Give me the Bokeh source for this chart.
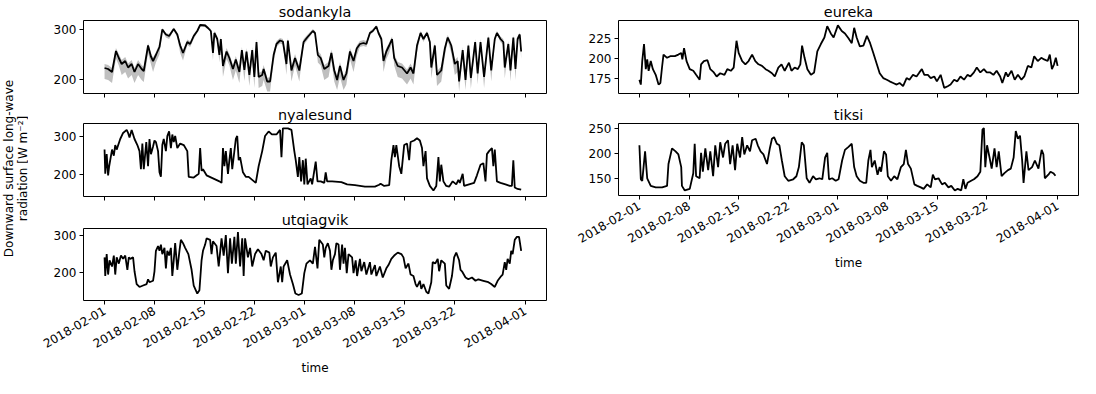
import math
import numpy as np
from bokeh.plotting import figure
from bokeh.layouts import row, column
from bokeh.models import Range1d, FixedTicker, DatetimeTickFormatter
from bokeh.embed import file_html
from bokeh.resources import INLINE
from bokeh.core.properties import value

# ---------------- data (days after 2018-02-01, W m-2) ----------------
sod_days = [0.0, 0.5, 1.05, 1.6, 2.0, 2.4, 2.9, 3.3, 3.8, 4.2, 4.7, 5.2, 5.5, 6.1, 6.5, 6.8, 7.2, 7.7, 8.1, 8.6,
            9.05, 9.7, 10.2, 10.6, 11.0, 11.6, 12.0, 12.5, 13.0, 13.4, 14.1, 14.5, 14.9, 15.2, 15.4, 15.8, 16.1, 16.3, 16.6, 17.1,
            17.5, 18.0, 18.4, 18.9, 19.25, 19.6, 19.9, 20.3, 20.7, 21.0, 21.3, 21.6, 22.1, 22.3, 22.8, 23.2, 23.7, 24.1, 24.6, 25.0,
            25.5, 25.7, 26.2, 26.7, 27.3, 27.9, 28.4, 29.2, 29.5, 29.9, 30.3, 30.8, 31.4, 31.8, 32.2, 32.6, 33.0, 33.5, 33.9, 34.4,
            34.9, 35.35, 35.8, 36.3, 36.7, 37.2, 37.6, 38.1, 38.4, 38.8, 39.1, 39.5, 39.9, 40.3, 40.6, 41.1, 41.7, 42.4, 42.9, 43.3,
            43.8, 44.3, 44.7, 45.2, 45.6, 45.8, 46.3, 46.6, 47.2, 47.7, 48.1, 48.6, 49.1, 49.5, 49.7, 50.2, 50.6, 51.0, 51.35, 51.95,
            52.3, 52.7, 53.2, 53.8, 54.2, 54.7, 55.0, 55.5, 55.9, 56.1, 56.6, 56.9, 57.3, 57.6, 57.9, 58.2, 58.4]
sod_vals = [222, 220, 214, 256, 242, 230, 236, 223, 230, 214, 230, 220, 216, 267, 245, 236, 248, 264, 299, 289,
            286, 300, 289, 267, 252, 274, 270, 286, 296, 308, 307, 302, 296, 252, 292, 280, 248, 280, 226, 255,
            242, 220, 239, 214, 258, 218, 255, 208, 258, 204, 274, 204, 208, 220, 195, 195, 248, 270, 277, 275,
            230, 277, 217, 242, 217, 274, 283, 296, 292, 248, 242, 220, 226, 252, 217, 198, 226, 198, 211, 255,
            236, 261, 270, 272, 270, 292, 296, 305, 292, 280, 236, 255, 267, 280, 242, 226, 223, 211, 223, 211,
            267, 292, 280, 292, 274, 223, 267, 208, 217, 261, 283, 267, 230, 236, 195, 258, 198, 267, 202, 274,
            211, 274, 204, 283, 217, 280, 292, 280, 274, 223, 270, 217, 283, 220, 280, 289, 255]
sod_lo = [200, 198, 192, 241, 227, 208, 214, 201, 208, 192, 208, 198, 194, 252, 230, 214, 233, 249, 296, 283,
          280, 297, 283, 252, 237, 268, 264, 280, 293, 305, 304, 299, 293, 237, 289, 274, 233, 274, 204, 240,
          227, 198, 217, 192, 243, 196, 240, 186, 243, 182, 268, 182, 186, 198, 175, 175, 233, 264, 271, 269,
          208, 271, 195, 227, 195, 268, 277, 293, 289, 233, 227, 198, 204, 237, 195, 178, 204, 178, 189, 240,
          214, 246, 264, 266, 264, 289, 293, 302, 289, 274, 214, 240, 252, 274, 227, 204, 201, 189, 201, 189,
          252, 289, 274, 289, 268, 201, 252, 186, 195, 246, 277, 252, 208, 214, 175, 243, 178, 252, 180, 268,
          189, 268, 182, 277, 195, 274, 289, 274, 268, 201, 264, 195, 277, 198, 274, 283, 240]
sod_hi = [230, 228, 222, 262, 250, 238, 244, 231, 238, 222, 238, 228, 224, 272, 252, 243, 254, 270, 302, 292,
          290, 303, 292, 272, 258, 279, 275, 290, 299, 310, 310, 305, 300, 258, 296, 285, 255, 285, 234, 262,
          250, 228, 246, 222, 264, 226, 262, 216, 264, 212, 280, 212, 216, 228, 203, 203, 255, 276, 282, 280,
          238, 282, 225, 250, 225, 280, 288, 300, 296, 255, 250, 228, 234, 259, 225, 206, 234, 206, 219, 262,
          244, 267, 276, 278, 276, 296, 300, 308, 296, 285, 244, 262, 273, 285, 250, 234, 231, 219, 231, 219,
          273, 296, 285, 296, 280, 231, 273, 216, 225, 267, 288, 273, 238, 244, 203, 264, 206, 273, 210, 280,
          219, 280, 212, 288, 225, 285, 296, 285, 280, 231, 276, 225, 288, 228, 285, 293, 262]

nya_days = [0.0, 0.1, 0.3, 0.5, 0.65, 1.05, 1.3, 1.5, 1.7, 2.2, 2.6, 3.1, 3.3, 3.5, 3.8, 4.2, 4.6, 4.9, 5.1, 5.3,
            5.5, 5.85, 6.1, 6.3, 6.5, 6.8, 7.0, 7.2, 7.5, 7.7, 7.9, 8.1, 8.3, 8.6, 8.8, 9.05, 9.3, 9.5, 9.7, 9.9,
            10.2, 10.6, 11.1, 11.6, 11.8, 12.5, 13.2, 13.4, 13.6, 13.8, 14.3, 15.2, 16.1, 16.4, 16.6, 16.8, 17.0, 17.3, 17.5, 17.7,
            17.9, 18.4, 18.6, 18.8, 19.0, 19.4, 19.8, 20.2, 20.7, 21.2, 21.6, 22.1, 22.5, 23.0, 23.45, 24.1, 24.6, 24.8, 25.0, 25.7,
            26.2, 26.6, 26.8, 27.1, 27.3, 27.55, 27.8, 28.0, 28.2, 28.45, 28.9, 29.1, 29.6, 29.85, 30.3, 30.8, 31.0, 31.2, 31.9, 33.2,
            34.0, 35.1, 36.5, 37.9, 38.5, 38.7, 39.2, 39.9, 40.2, 40.5, 40.7, 40.9, 41.3, 41.6, 42.0, 42.4, 42.7, 42.9, 43.4, 43.8,
            44.2, 44.5, 44.7, 45.0, 45.2, 45.6, 46.1, 46.5, 46.8, 47.0, 47.2, 47.5, 47.9, 48.3, 48.8, 49.3, 49.6, 49.8, 50.2, 50.4,
            51.1, 51.8, 52.2, 52.7, 53.1, 53.4, 53.6, 53.9, 54.3, 54.5, 54.7, 55.0, 55.5, 56.2, 56.8, 57.1, 57.3, 57.5, 57.9, 58.4]
nya_vals = [266, 202, 254, 198, 222, 266, 250, 278, 266, 294, 310, 318, 310, 298, 318, 294, 278, 262, 214, 282,
            214, 286, 222, 294, 254, 274, 290, 286, 262, 206, 194, 278, 294, 262, 302, 314, 270, 306, 286, 302,
            270, 282, 278, 262, 194, 192, 202, 270, 210, 214, 198, 190, 182, 178, 270, 222, 262, 202, 238, 270,
            214, 294, 302, 238, 246, 206, 194, 194, 186, 178, 222, 262, 302, 314, 306, 306, 318, 246, 322, 322,
            318, 262, 238, 194, 246, 182, 238, 174, 242, 174, 190, 174, 234, 182, 182, 178, 206, 182, 182, 180,
            174, 172, 168, 168, 173, 176, 170, 172, 238, 278, 246, 278, 222, 202, 278, 282, 238, 286, 290, 296,
            290, 270, 222, 262, 190, 170, 158, 170, 246, 182, 226, 182, 170, 168, 182, 174, 186, 178, 202, 170,
            174, 178, 198, 226, 230, 182, 254, 262, 270, 222, 266, 182, 178, 174, 170, 170, 238, 166, 162, 160]

utq_days = [0.0, 0.1, 0.3, 0.5, 0.7, 1.05, 1.3, 1.5, 1.7, 2.0, 2.3, 2.6, 2.9, 3.2, 3.4, 3.6, 4.0, 4.2, 4.5, 4.9,
            5.4, 5.9, 6.1, 6.3, 6.8, 7.0, 7.2, 7.5, 7.7, 7.9, 8.1, 8.4, 8.6, 8.8, 9.05, 9.3, 9.5, 9.7, 9.9, 10.2,
            10.5, 10.7, 11.0, 11.3, 11.75, 12.2, 12.5, 13.0, 13.3, 13.6, 13.8, 14.1, 14.3, 14.8, 15.0, 15.2, 15.7, 16.0, 16.4, 16.7,
            17.0, 17.3, 17.6, 17.85, 18.2, 18.4, 18.7, 19.0, 19.3, 19.5, 19.7, 20.1, 20.4, 20.7, 21.1, 21.5, 22.0, 22.3, 22.6, 23.1,
            23.3, 23.6, 24.0, 24.3, 24.7, 24.9, 25.1, 25.6, 26.0, 26.4, 26.75, 27.2, 27.65, 28.0, 28.3, 28.8, 29.2, 29.5, 29.85, 30.1,
            30.6, 30.8, 31.0, 31.3, 31.6, 31.8, 32.0, 32.3, 32.5, 32.8, 33.0, 33.3, 33.5, 33.7, 33.95, 34.2, 34.7, 34.9, 35.2, 35.4,
            35.8, 36.0, 36.4, 36.7, 37.2, 37.4, 37.9, 38.1, 38.6, 39.0, 39.5, 39.8, 40.2, 40.6, 41.1, 41.6, 41.9, 42.2, 42.6, 42.9,
            43.3, 43.6, 43.8, 44.2, 44.4, 44.7, 45.1, 45.4, 45.8, 46.0, 46.35, 46.7, 46.9, 47.2, 47.7, 47.9, 48.3, 48.7, 49.0, 49.3,
            49.7, 49.9, 50.1, 50.6, 51.0, 51.5, 52.0, 52.4, 53.1, 53.8, 54.2, 54.7, 55.1, 55.6, 55.8, 56.1, 56.3, 56.5, 56.8, 57.0,
            57.2, 57.5, 57.8, 58.1, 58.4]
utq_vals = [241, 190, 250, 194, 233, 216, 246, 194, 241, 224, 246, 237, 246, 207, 241, 237, 241, 203, 168, 160,
            164, 168, 181, 173, 177, 203, 259, 272, 259, 276, 250, 267, 211, 259, 246, 267, 190, 233, 280, 207,
            259, 289, 280, 267, 250, 207, 164, 142, 151, 233, 259, 276, 293, 289, 250, 285, 272, 216, 293, 246,
            302, 198, 293, 224, 297, 224, 310, 216, 293, 190, 293, 241, 267, 216, 250, 263, 250, 233, 259, 254,
            216, 241, 254, 173, 216, 173, 216, 233, 194, 168, 142, 138, 142, 198, 224, 233, 224, 270, 211, 289,
            276, 241, 267, 280, 259, 207, 233, 250, 280, 276, 207, 276, 224, 267, 198, 250, 241, 198, 233, 190,
            237, 203, 228, 194, 228, 194, 220, 190, 216, 186, 211, 220, 237, 246, 254, 250, 241, 211, 224, 194,
            190, 168, 160, 177, 155, 168, 147, 142, 173, 228, 224, 237, 203, 233, 224, 164, 155, 190, 241, 254,
            233, 207, 203, 186, 181, 186, 177, 181, 177, 173, 168, 160, 177, 190, 194, 228, 207, 237, 224, 259,
            250, 289, 297, 297, 259]

eur_days = [0.0, 0.2, 0.4, 0.65, 0.9, 1.1, 1.3, 1.6, 1.9, 2.3, 2.7, 2.96, 3.2, 3.4, 3.9, 4.35, 5.0, 5.5, 5.9, 6.06,
            6.3, 6.65, 7.1, 7.6, 8.0, 8.5, 8.7, 9.1, 9.6, 10.0, 10.5, 10.9, 11.4, 12.0, 12.4, 12.9, 13.3, 13.7, 14.0, 14.5,
            14.95, 15.4, 15.9, 16.35, 16.8, 17.3, 17.8, 18.2, 18.7, 19.1, 19.6, 20.05, 20.5, 21.1, 21.45, 21.9, 22.35, 22.7, 22.95, 23.3,
            23.7, 24.2, 24.65, 25.1, 25.6, 26.1, 26.5, 27.0, 27.4, 28.0, 28.55, 29.0, 29.5, 29.96, 30.3, 30.65, 31.1, 31.6, 32.1, 32.55,
            33.0, 33.5, 33.9, 34.4, 34.9, 35.3, 35.8, 36.3, 36.7, 37.2, 37.7, 38.1, 38.6, 39.1, 39.5, 39.85, 40.2, 40.7, 41.1, 41.6,
            41.97, 42.5, 43.0, 43.5, 43.9, 44.4, 44.85, 45.3, 45.8, 46.3, 46.7, 47.2, 47.6, 48.1, 48.6, 49.0, 49.5, 49.95, 50.4, 50.9,
            51.2, 51.7, 52.0, 52.5, 52.95, 53.4, 53.9, 54.3, 54.8, 55.3, 55.7, 56.2, 56.7, 57.1, 57.6, 57.9, 58.2, 58.5, 58.75, 59.0]
eur_vals = [174, 168, 197, 218, 187, 199, 185, 197, 187, 180, 168, 170, 190, 205, 201, 203, 203, 205, 207, 199,
            213, 197, 187, 185, 180, 174, 193, 197, 198, 187, 183, 178, 182, 180, 187, 185, 189, 222, 207, 197,
            193, 197, 205, 197, 193, 191, 187, 185, 182, 178, 189, 193, 185, 195, 185, 189, 187, 193, 216, 201,
            187, 180, 183, 209, 218, 226, 240, 231, 226, 241, 234, 231, 225, 219, 238, 226, 215, 216, 228, 219,
            207, 193, 182, 176, 174, 172, 170, 168, 170, 166, 176, 174, 180, 178, 183, 187, 180, 180, 176, 178,
            172, 180, 164, 166, 168, 174, 172, 178, 174, 180, 178, 183, 189, 183, 187, 183, 183, 180, 185, 178,
            170, 183, 178, 185, 174, 180, 174, 178, 191, 189, 203, 197, 201, 199, 197, 205, 187, 193, 201, 191]

tik_days = [0.0, 0.2, 0.4, 0.8, 1.1, 1.6, 2.3, 3.2, 3.9, 4.1, 4.6, 5.1, 5.5, 5.9, 6.0, 6.4, 7.1, 7.6, 7.8, 8.0,
            8.5, 8.7, 8.95, 9.3, 9.7, 10.0, 10.4, 10.7, 11.1, 11.4, 11.8, 12.1, 12.5, 12.8, 13.15, 13.5, 13.8, 14.2, 14.5, 14.8,
            15.2, 15.6, 15.9, 16.4, 16.7, 17.1, 17.5, 18.0, 18.4, 18.7, 19.0, 19.4, 19.75, 20.1, 20.5, 21.0, 21.7, 22.15, 22.5, 22.9,
            23.2, 23.6, 24.0, 24.5, 24.9, 25.4, 25.8, 26.2, 26.5, 26.75, 27.2, 27.7, 28.1, 28.6, 29.0, 29.5, 29.96, 30.3, 30.65, 31.1,
            31.6, 32.0, 32.3, 32.6, 32.8, 33.2, 33.6, 33.9, 34.1, 34.5, 34.8, 35.05, 35.5, 35.95, 36.4, 36.9, 37.3, 37.6, 37.9, 38.3,
            38.8, 39.2, 39.7, 40.1, 40.6, 41.1, 41.4, 41.7, 42.2, 42.7, 43.1, 43.6, 44.0, 44.5, 44.9, 45.4, 45.7, 46.0, 46.3, 46.8,
            47.2, 47.7, 48.1, 48.4, 48.6, 48.8, 49.05, 49.4, 49.7, 50.1, 50.4, 50.7, 51.1, 51.5, 52.0, 52.4, 52.8, 53.1, 53.4, 53.7,
            54.0, 54.2, 54.6, 54.9, 55.4, 55.8, 56.3, 56.75, 57.0, 57.2, 57.7, 58.0, 58.4, 58.7]
tik_vals = [216, 149, 146, 204, 151, 136, 133, 133, 136, 179, 210, 204, 198, 173, 136, 127, 130, 161, 219, 155,
            151, 201, 164, 210, 167, 204, 155, 216, 173, 222, 192, 219, 226, 179, 216, 167, 219, 192, 232, 198,
            216, 204, 226, 229, 216, 204, 198, 179, 210, 229, 232, 219, 216, 186, 155, 146, 149, 155, 173, 222,
            216, 151, 142, 155, 149, 151, 149, 192, 201, 149, 151, 146, 149, 186, 207, 213, 219, 173, 155, 146,
            142, 142, 186, 207, 173, 186, 158, 173, 164, 204, 198, 155, 146, 155, 149, 173, 179, 207, 179, 170,
            139, 136, 133, 130, 139, 133, 158, 149, 151, 139, 142, 133, 136, 127, 130, 127, 149, 130, 142, 146,
            149, 155, 164, 247, 250, 173, 216, 192, 170, 210, 173, 204, 155, 161, 167, 170, 192, 244, 229, 235,
            186, 142, 204, 167, 173, 186, 170, 207, 198, 151, 158, 164, 161, 156]

tick_days = [0, 7, 14, 21, 28, 35, 42, 49, 59]

# ---------------- helpers ----------------
T0 = 1517443200000.0  # 2018-02-01 00:00 UTC in ms
DAY = 86400000.0


def ms(d):
    return T0 + d * DAY


def to_dt(days):
    return np.array([ms(d) for d in days])


FONT = "DejaVu Sans"
FMT = "%Y-%m-%d"
X0, X1 = ms(-2.95), ms(61.95)
FRAME_H = 73


def panel(title, yr, yticks, frame_w, left, right, top, bottom, labels, xlabel=None):
    p = figure(width=left + frame_w + right, height=top + FRAME_H + bottom,
               x_axis_type="datetime", output_backend="svg", toolbar_location=None,
               x_range=Range1d(X0, X1), y_range=Range1d(yr[0], yr[1]),
               min_border_left=left, min_border_right=right,
               min_border_top=top, min_border_bottom=bottom,
               background_fill_color="white", border_fill_color="white")
    p.title.text = title
    p.title.align = "center"
    p.title.text_font = FONT
    p.title.text_font_size = "14.4px"
    p.title.text_font_style = "normal"
    p.title.text_color = "black"
    p.title.standoff = 1
    p.title.offset = 0
    p.grid.visible = False
    p.outline_line_color = "black"
    p.outline_line_width = 1
    p.outline_line_alpha = 1
    for ax in p.axis:
        ax.axis_line_color = None
        ax.major_tick_line_color = "black"
        ax.major_tick_out = 4
        ax.major_tick_in = 0
        ax.minor_tick_line_color = None
        ax.major_label_text_font = FONT
        ax.major_label_text_font_size = "12px"
        ax.major_label_text_color = "black"
        ax.major_label_standoff = 3
    p.yaxis.ticker = FixedTicker(ticks=yticks)
    p.xaxis.formatter = DatetimeTickFormatter(
        milliseconds=FMT, seconds=FMT, minsec=FMT, minutes=FMT, hourmin=FMT,
        hours=FMT, days=FMT, months=FMT, years=FMT)
    tick_ms = [ms(d) for d in tick_days]
    if labels:
        p.xaxis.ticker = FixedTicker(ticks=tick_ms)
        p.xaxis.major_label_orientation = math.pi / 6
        p.xaxis.major_label_standoff = 5
    else:
        # shared x axis: tick marks only (drawn as minor ticks, no labels)
        p.xaxis.ticker = FixedTicker(ticks=[], minor_ticks=tick_ms)
        p.xaxis.minor_tick_line_color = "black"
        p.xaxis.minor_tick_out = 4
        p.xaxis.minor_tick_in = 0
        p.xaxis.minor_tick_line_width = 1
    if xlabel:
        p.xaxis.axis_label = xlabel
        p.xaxis.axis_label_text_font = FONT
        p.xaxis.axis_label_text_font_size = "12px"
        p.xaxis.axis_label_text_font_style = "normal"
        p.xaxis.axis_label_text_color = "black"
        p.xaxis.axis_label_standoff = 6
    return p


LW = 1.8
# left column: frame 463 wide, right column: frame 460 wide
L_LEFT, L_RIGHT = 55, 24
R_LEFT, R_RIGHT = 48, 2

sod = panel("sodankyla", (171, 317), [200, 300], 463, L_LEFT, L_RIGHT, 20, 11, False)
sod.varea(x=to_dt(sod_days), y1=sod_lo, y2=sod_hi, fill_color="#bfbfbf", fill_alpha=1.0)
sod.line(to_dt(sod_days), sod_vals, line_color="black", line_width=LW)

nya = panel("nyalesund", (142, 335), [200, 300], 463, L_LEFT, L_RIGHT, 19, 10, False)
nya.line(to_dt(nya_days), nya_vals, line_color="black", line_width=LW)

utq = panel("utqiagvik", (123, 320), [200, 300], 463, L_LEFT, L_RIGHT, 22, 77, True, "time")
utq.line(to_dt(utq_days), utq_vals, line_color="black", line_width=LW)

eur = panel("eureka", (157, 247), [175, 200, 225], 460, R_LEFT, R_RIGHT, 20, 11, False)
eur.line(to_dt(eur_days), eur_vals, line_color="black", line_width=LW)

tik = panel("tiksi", (117, 259), [150, 200, 250], 460, R_LEFT, R_RIGHT, 19, 77, True, "time")
tik.line(to_dt(tik_days), tik_vals, line_color="black", line_width=LW)

# shared y label
ylab = figure(width=28, height=378, output_backend="svg", toolbar_location=None,
              x_range=Range1d(0, 28), y_range=Range1d(0, 378),
              x_axis_location=None, y_axis_location=None,
              min_border=0, min_border_left=0, min_border_right=0,
              min_border_top=0, min_border_bottom=0,
              background_fill_color="white", border_fill_color="white")
ylab.grid.visible = False
ylab.outline_line_color = None
ylab.text(x=[8, 22], y=[210, 210],
          text=["Downward surface long-wave", "radiation [W m\u207b\u00b2]"],
          angle=math.pi / 2, text_align="center", text_baseline="middle",
          text_font=value(FONT), text_font_size="12px", text_color="black")

layout = row(ylab, column(sod, nya, utq), column(eur, tik))

open("out.html", "w").write(file_html(layout, INLINE))
